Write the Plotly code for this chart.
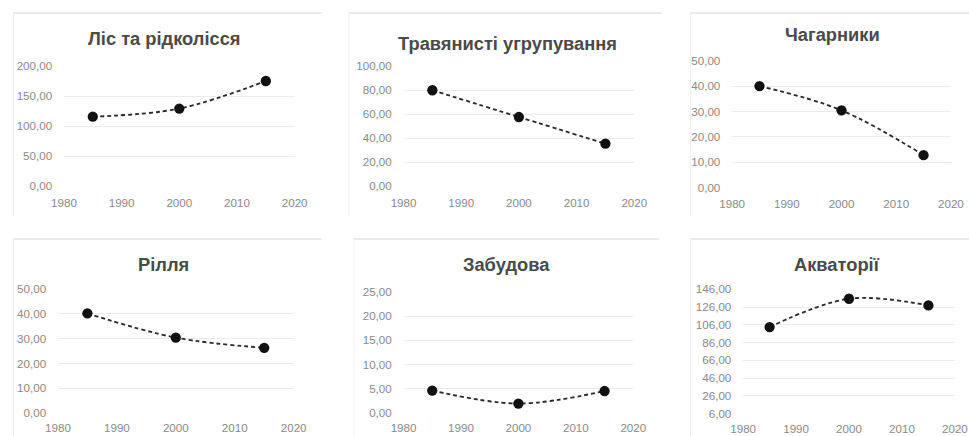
import plotly.graph_objects as go

# The photographed page appears slightly shrunk about its centre, so every pixel
# position below (measured on the reference) is mapped back to page pixels.
OX, SX, OY, SY = 11.0, 0.975, 6.0, 0.971
W, H = 994, 450

years = [1985, 2000, 2015]
titles = ["Ліс та рідколісся", "Травянисті угрупування", "Чагарники",
          "Рілля", "Забудова", "Акваторії"]
forest = [115.5, 129.0, 175.0]
grass = [79.8, 57.5, 35.3]
shrubs = [40.1, 30.5, 12.8]
arable = [40.2, 30.4, 26.3]
built = [4.6, 1.9, 4.5]
water = [103.5, 135.4, 127.9]
series = [forest, grass, shrubs, arable, built, water]

x_ticks = [1980, 1990, 2000, 2010, 2020]
y_ranges = [(0, 200, 50), (0, 100, 20), (0, 50, 10), (0, 50, 10), (0, 25, 5), (6, 146, 20)]

# plot-area pixel boxes in the reference: (left, right, top, bottom)
boxes = [(62, 293, 65, 185), (402, 633, 65, 185), (731, 950, 60, 186.5),
         (56, 292, 288, 412), (402, 632, 291, 411.7), (742, 954, 288.3, 412.7)]
title_pos = [(163, 37), (506, 42), (831, 33), (162, 263), (505, 263), (836, 263)]
# chart-area frames (left, right, top, bottom)
frames = [(7, 320, 12, 216), (347, 660, 12, 216), (689, 969, 12, 216),
          (7, 320, 238, 436), (352, 658, 238, 436), (689, 969, 238, 436)]
x_label_gap = [6, 6, 6, 4, 4, 4]


def px(x):
    return max(0.0, min(1.0, (x - OX) / SX / W))


def py(y):
    return max(0.0, min(1.0, 1 - (y - OY) / SY / H))


FONT = "Liberation Sans, Arial, sans-serif"
fig = go.Figure()
layout = dict(width=W, height=H, margin=dict(l=0, r=0, t=0, b=0),
              paper_bgcolor="white", plot_bgcolor="white",
              showlegend=False, separators=", ",
              font=dict(family=FONT, color="#8a8a8a", size=11.6))
annotations = []
shapes = []

for i in range(6):
    k = "" if i == 0 else str(i + 1)
    l, r, t, b = boxes[i]
    y0, y1, dy = y_ranges[i]
    fig.add_trace(go.Scatter(
        x=years, y=series[i], mode="lines+markers",
        line=dict(color="#2b2b2b", width=1.85, dash="4px,3px", shape="spline", smoothing=1),
        marker=dict(color="#111111", size=10.3),
        xaxis="x" + k, yaxis="y" + k, cliponaxis=False))
    layout["xaxis" + k] = dict(domain=[px(l), px(r)], range=[1980, 2020], tickvals=x_ticks,
                               showgrid=False, zeroline=False, showline=False,
                               ticks="outside", ticklen=x_label_gap[i], tickcolor="rgba(0,0,0,0)",
                               anchor="y" + k, fixedrange=True,
                               tickfont=dict(size=11.6, color="#8a8a8a"))
    layout["yaxis" + k] = dict(domain=[py(b), py(t)], range=[y0, y1], tick0=y0, dtick=dy,
                               tickformat=".2f", showgrid=True, gridcolor="#ebebeb", gridwidth=1,
                               zeroline=False, showline=False,
                               ticks="outside", ticklen=8.5, tickcolor="rgba(0,0,0,0)",
                               anchor="x" + k, fixedrange=True,
                               tickfont=dict(size=11.6, color="#8a8a8a"))
    tx, ty = title_pos[i]
    annotations.append(dict(text="<b>" + titles[i] + "</b>", x=px(tx), y=py(ty),
                            xref="paper", yref="paper", xanchor="center", yanchor="middle",
                            showarrow=False,
                            font=dict(size=18.3, color="#4a4a4a", family=FONT)))
    fl, fr, ft, fb = frames[i]
    shapes.append(dict(type="line", xref="paper", yref="paper",
                       x0=px(fl), x1=px(fr), y0=py(ft), y1=py(ft),
                       line=dict(color="#d6d6d6", width=1)))
    shapes.append(dict(type="line", xref="paper", yref="paper",
                       x0=px(fl) + 0.0005, x1=px(fl) + 0.0005, y0=py(ft), y1=py(fb),
                       line=dict(color="#efefef", width=1)))

layout["annotations"] = annotations
layout["shapes"] = shapes
fig.update_layout(**layout)
fig.write_html("out.html", config={"displayModeBar": False},
               post_script="document.body.style.margin='0';document.body.style.overflow='hidden';")
